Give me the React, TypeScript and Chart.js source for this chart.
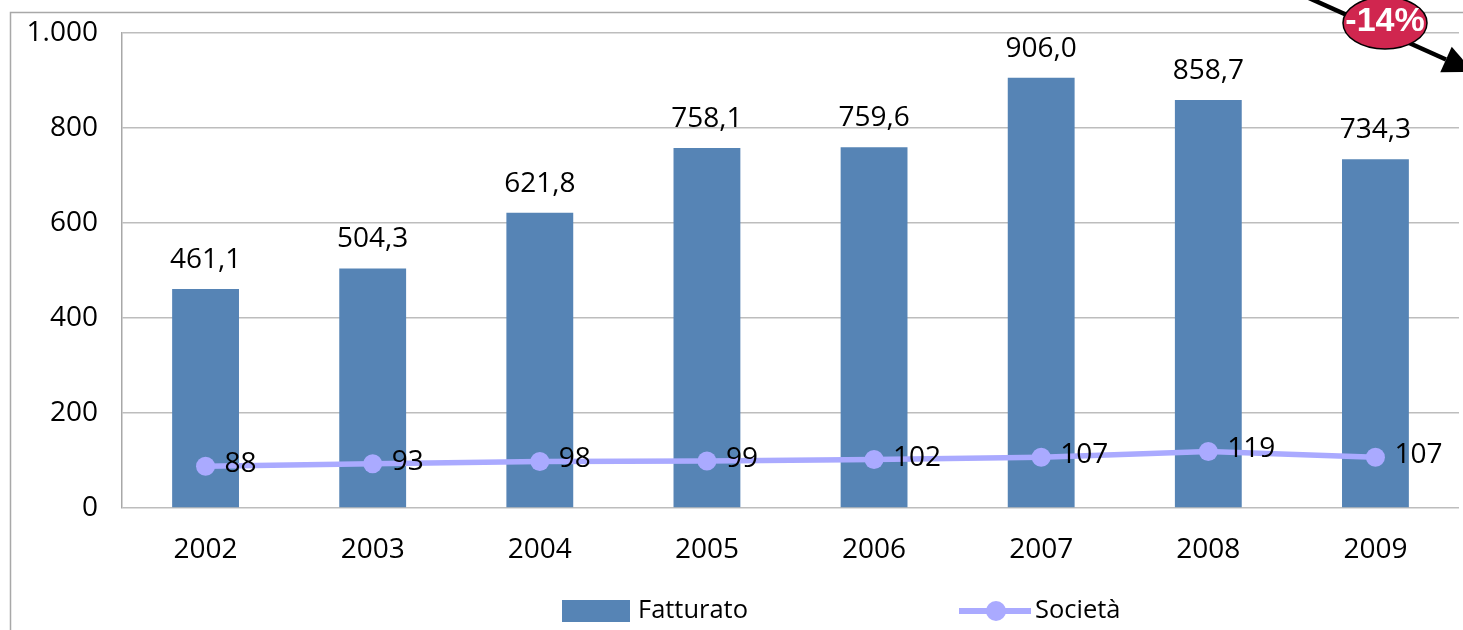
import React, { useEffect, useRef } from "react";
import { Chart, registerables } from "chart.js";

Chart.register(...registerables);

const years = ["2002", "2003", "2004", "2005", "2006", "2007", "2008", "2009"];
const fatturato = [461.1, 504.3, 621.8, 758.1, 759.6, 906.0, 858.7, 734.3];
const societa = [88, 93, 98, 99, 102, 107, 119, 107];
const seriesNames = ["Fatturato", "Società"];
const changeLabel = "-14%";

const BAR_COLOR = "#5684b5";
const LINE_COLOR = "#aaaaff";
const FONT = "'Open Sans', sans-serif";
const FSIZE = 28;

const fmtThousands = (v: number) => {
  const s = Math.round(v).toString();
  return s.replace(/\B(?=(\d{3})+(?!\d))/g, ".");
};
const fmtDecimal = (v: number) => v.toFixed(1).replace(".", ",");

const drawSqueezed = (ctx: any, text: string, x: number, y: number, sx: number) => {
  ctx.save();
  ctx.translate(x, y);
  ctx.scale(sx, 1);
  ctx.fillText(text, 0, 0);
  ctx.restore();
};

const decorPlugin = {
  id: "decor",
  beforeDraw(chart: any) {
    const ctx = chart.ctx;
    ctx.save();
    ctx.fillStyle = "#ffffff";
    ctx.fillRect(0, 0, chart.width, chart.height);
    ctx.strokeStyle = "#a8a8a8";
    ctx.lineWidth = 1.5;
    ctx.beginPath();
    ctx.moveTo(10.5, chart.height + 5);
    ctx.lineTo(10.5, 12.5);
    ctx.lineTo(chart.width + 5, 12.5);
    ctx.stroke();
    ctx.restore();
  },
  afterDatasetsDraw(chart: any) {
    const ctx = chart.ctx;
    ctx.save();
    ctx.font = `${FSIZE}px ${FONT}`;
    ctx.fillStyle = "#000";
    const barMeta = chart.getDatasetMeta(0);
    barMeta.data.forEach((el: any, i: number) => {
      ctx.textAlign = "center";
      ctx.textBaseline = "middle";
      ctx.fillText(fmtDecimal(fatturato[i]), el.x, el.y - 29);
    });
    const lineMeta = chart.getDatasetMeta(1);
    lineMeta.data.forEach((el: any, i: number) => {
      ctx.textAlign = "left";
      ctx.textBaseline = "middle";
      ctx.fillText(String(societa[i]), el.x + 19, el.y - 2);
    });
    ctx.restore();
  },
  afterDraw(chart: any) {
    const ctx = chart.ctx;
    ctx.save();
    // legend
    const ly = 611;
    ctx.fillStyle = BAR_COLOR;
    ctx.fillRect(562, 600, 68, 22);
    ctx.fillStyle = "#000";
    ctx.font = `25px ${FONT}`;
    ctx.textAlign = "left";
    ctx.textBaseline = "middle";
    const w0 = ctx.measureText(seriesNames[0]).width;
    const sx = Math.min(1.1, 110 / w0);
    drawSqueezed(ctx, seriesNames[0], 638, ly, sx);
    ctx.strokeStyle = LINE_COLOR;
    ctx.lineWidth = 6;
    ctx.beginPath();
    ctx.moveTo(959, ly);
    ctx.lineTo(1031, ly);
    ctx.stroke();
    ctx.fillStyle = LINE_COLOR;
    ctx.beginPath();
    ctx.arc(996, ly, 10, 0, Math.PI * 2);
    ctx.fill();
    ctx.fillStyle = "#000";
    drawSqueezed(ctx, seriesNames[1], 1035, ly, sx);

    // arrow
    const dx = 0.913, dy = 0.409;
    const bx = 1446, by = 59.5;
    ctx.strokeStyle = "#000";
    ctx.lineWidth = 4.5;
    ctx.beginPath();
    ctx.moveTo(1300, -6);
    ctx.lineTo(bx, by);
    ctx.stroke();
    const w = 14, L = 30;
    ctx.fillStyle = "#000";
    ctx.beginPath();
    ctx.moveTo(bx + w * dy, by - w * dx);
    ctx.lineTo(bx - w * dy, by + w * dx);
    ctx.lineTo(bx + L * dx, by + L * dy);
    ctx.closePath();
    ctx.fill();
    // ellipse
    ctx.fillStyle = "#d0264f";
    ctx.strokeStyle = "#000";
    ctx.lineWidth = 1.5;
    ctx.beginPath();
    ctx.ellipse(1385, 23, 42, 26, 0, 0, Math.PI * 2);
    ctx.fill();
    ctx.stroke();
    ctx.fillStyle = "#fff";
    ctx.font = `bold 34px 'Liberation Sans', Arial, sans-serif`;
    ctx.textAlign = "center";
    ctx.textBaseline = "middle";
    ctx.fillText(changeLabel, 1385, 22);
    ctx.restore();
  },
};

export default function App() {
  const ref = useRef<HTMLCanvasElement | null>(null);
  useEffect(() => {
    if (!ref.current) return;
    const chart = new Chart(ref.current, {
      type: "bar",
      data: {
        labels: years,
        datasets: [
          {
            type: "bar",
            label: seriesNames[0],
            data: fatturato,
            backgroundColor: BAR_COLOR,
            barPercentage: 0.4,
            categoryPercentage: 1,
            order: 1,
          },
          {
            type: "line",
            label: seriesNames[1],
            data: societa,
            borderColor: LINE_COLOR,
            backgroundColor: LINE_COLOR,
            borderWidth: 5.5,
            pointRadius: 9.5,
            pointBorderWidth: 0,
            tension: 0,
            order: 0,
          } as any,
        ],
      },
      options: {
        responsive: false,
        animation: false,
        devicePixelRatio: 1,
        layout: { autoPadding: false, padding: { top: 33, left: 0, right: 4, bottom: 0 } },
        plugins: {
          legend: { display: false },
          tooltip: { enabled: false },
          title: { display: false },
        },
        scales: {
          x: {
            grid: { display: false, drawTicks: true, tickLength: 23, tickColor: "transparent" },
            border: { display: false },
            ticks: {
              font: { family: FONT, size: FSIZE },
              color: "#000",
              padding: 2,
              maxRotation: 0,
            },
            afterFit(scale: any) {
              scale.height = 122;
            },
          },
          y: {
            min: 0,
            max: 1000,
            grid: { color: "#bdbdbd", lineWidth: 1.5, drawTicks: true, tickLength: 22, tickColor: "transparent" },
            border: { display: true, color: "#a8a8a8", width: 1.5 },
            ticks: {
              stepSize: 200,
              font: { family: FONT, size: FSIZE },
              color: "#000",
              padding: 2,
              callback: (v: any) => fmtThousands(Number(v)),
            },
            afterFit(scale: any) {
              scale.width = 122;
            },
          },
        },
      },
      plugins: [decorPlugin],
    });
    return () => chart.destroy();
  }, []);
  return (
    <div style={{ position: "absolute", left: 0, top: 0, width: 1463, height: 630 }}>
      <canvas ref={ref} width={1463} height={630} style={{ display: "block" }} />
    </div>
  );
}
